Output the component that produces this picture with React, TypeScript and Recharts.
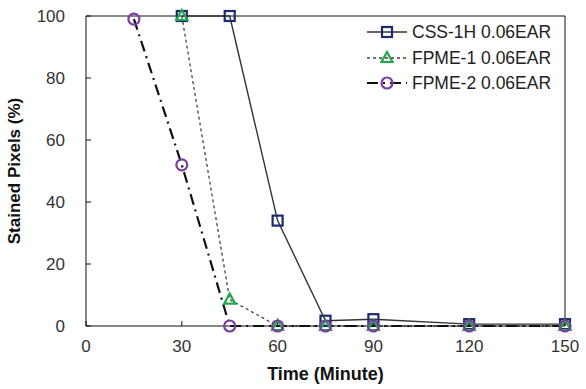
import React from 'react'
import { LineChart, Line, XAxis, YAxis, ReferenceLine } from 'recharts'

const times = [15, 30, 45, 60, 75, 90, 120, 150]
const css1h = [null, 100, 100, 34, 1.7, 2.2, 0.6, 0.6]
const fpme1 = [null, 100, 8.5, 0, 0, 0, 0, 0]
const fpme2 = [99, 52, 0, 0, 0, 0, 0, 0]
const xTicks = [0, 30, 60, 90, 120, 150]
const yTicks = [0, 20, 40, 60, 80, 100]

const data = times.map((t, i) => ({ time: t, css1h: css1h[i], fpme1: fpme1[i], fpme2: fpme2[i] }))

const FONT = '"Liberation Sans", Arial, sans-serif'
const NAVY = '#1c2a6b'
const GREEN = '#22a84a'
const PURPLE = '#7a3fa3'

const series = [
  { key: 'css1h', name: 'CSS-1H 0.06EAR', stroke: '#333', width: 1.4, dash: undefined as string | undefined, marker: 'square' },
  { key: 'fpme1', name: 'FPME-1 0.06EAR', stroke: '#444', width: 1.3, dash: '3 3', marker: 'triangle' },
  { key: 'fpme2', name: 'FPME-2 0.06EAR', stroke: '#111', width: 2.2, dash: '11 5 2 5', marker: 'circle' },
]

function Marker({ kind, cx, cy }: { kind: string; cx: number; cy: number }) {
  if (kind === 'square') {
    return <rect x={cx - 5} y={cy - 5} width={10} height={10} fill="none" stroke={NAVY} strokeWidth={2.2} />
  }
  if (kind === 'triangle') {
    return (
      <polygon
        points={`${cx},${cy - 6} ${cx - 5.5},${cy + 4} ${cx + 5.5},${cy + 4}`}
        fill="none"
        stroke={GREEN}
        strokeWidth={2.2}
      />
    )
  }
  return <circle cx={cx} cy={cy} r={5.5} fill="none" stroke={PURPLE} strokeWidth={2.2} />
}

const makeDot = (kind: string) => (props: any) => {
  const { cx, cy, index, value } = props
  if (value == null || cx == null || cy == null) return <g key={`d-${kind}-${index}`} />
  return (
    <g key={`d-${kind}-${index}`}>
      <Marker kind={kind} cx={cx} cy={cy} />
    </g>
  )
}

// legend sits inside the plot, top right
function LegendBox() {
  const rows = [32, 58, 83]
  return (
    <svg width={200} height={100} style={{ position: 'absolute', left: 367, top: 0, overflow: 'visible' }}>
      <rect x={0} y={17} width={197} height={80} fill="#fff" />
      {series.map((s, i) => (
        <g key={s.key}>
          <line x1={0} x2={40} y1={rows[i]} y2={rows[i]} stroke={s.stroke} strokeWidth={s.width} strokeDasharray={s.dash} />
          <Marker kind={s.marker} cx={20} cy={rows[i]} />
          <text x={45} y={rows[i]} dy="0.35em" fontSize={17.5} fontFamily={FONT} fill="#222">
            {s.name}
          </text>
        </g>
      ))}
    </svg>
  )
}

export default function App() {
  return (
    <div style={{ position: 'absolute', left: 0, top: 0, width: 586, height: 389, background: '#fff' }}>
      <LineChart width={586} height={389} data={data} margin={{ top: 16, right: 21, left: 0, bottom: 0 }}>
        <XAxis
          dataKey="time"
          type="number"
          domain={[0, 150]}
          ticks={xTicks}
          height={63}
          stroke="#111"
          tickSize={-5}
          tickMargin={19}
          tick={{ fontSize: 17, fontFamily: FONT, fill: '#333' }}
          label={{ value: 'Time (Minute)', position: 'insideBottom', offset: 9, fontSize: 18, fontWeight: 'bold', fontFamily: FONT, fill: '#111' }}
        />
        <YAxis
          type="number"
          domain={[0, 100]}
          ticks={yTicks}
          width={86}
          stroke="#111"
          tickSize={-5}
          tickMargin={26}
          tick={{ fontSize: 17, fontFamily: FONT, fill: '#333' }}
          label={{ value: 'Stained Pixels (%)', angle: -90, position: 'insideLeft', offset: 14, style: { textAnchor: 'middle' }, fontSize: 17, fontWeight: 'bold', fontFamily: FONT, fill: '#111' }}
        />
        <ReferenceLine y={100} stroke="#111" strokeWidth={1} />
        <ReferenceLine x={150} stroke="#111" strokeWidth={1} />
        {series.map((s) => (
          <Line
            key={s.key}
            dataKey={s.key}
            name={s.name}
            type="linear"
            stroke={s.stroke}
            strokeWidth={s.width}
            strokeDasharray={s.dash}
            dot={makeDot(s.marker)}
            activeDot={false}
            connectNulls
            isAnimationActive={false}
          />
        ))}
      </LineChart>
      <LegendBox />
    </div>
  )
}
